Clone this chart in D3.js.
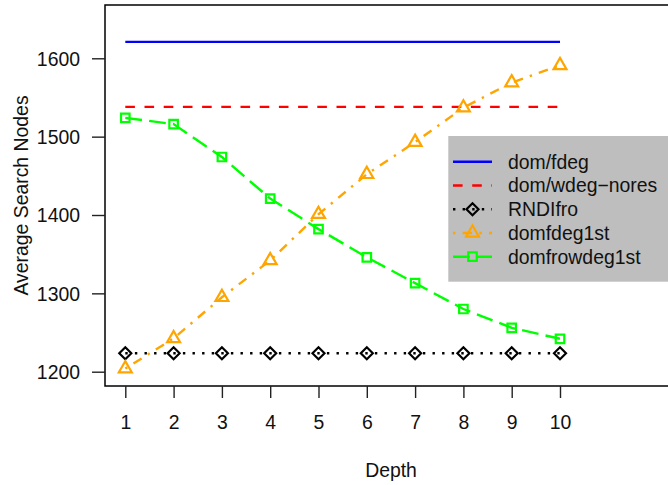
<!DOCTYPE html>
<html>
<head>
<meta charset="utf-8">
<script src="https://cdn.jsdelivr.net/npm/d3@7"></script>
<style>
  html, body { margin: 0; padding: 0; background: #fff; }
  svg { display: block; font-family: "Liberation Sans", Arial, Helvetica, sans-serif; }
</style>
</head>
<body>
<svg id="chart" width="668" height="485"></svg>
<script>
// Search depth on the x axis
const depths = [1, 2, 3, 4, 5, 6, 7, 8, 9, 10];

// Average number of search nodes per heuristic
const domFdeg        = [1621, 1621, 1621, 1621, 1621, 1621, 1621, 1621, 1621, 1621];
const domWdegNores   = [1538, 1538, 1538, 1538, 1538, 1538, 1538, 1538, 1538, 1538];
const rndIfro        = [1223.5, 1223.5, 1223.5, 1223.5, 1223.5, 1223.5, 1223.5, 1223.5, 1223.5, 1223.5];
const domFdeg1st     = [1204, 1242.5, 1295, 1342, 1401, 1452, 1493, 1537, 1569, 1591];
const domFrowDeg1st  = [1524, 1516, 1474, 1421, 1382, 1346, 1313, 1280, 1256, 1242];

const yTicks = [1200, 1300, 1400, 1500, 1600];
const xTicks = depths;

const seriesNames = ["dom/fdeg", "dom/wdeg\u2212nores", "RNDIfro", "domfdeg1st", "domfrowdeg1st"];

const series = [
  { name: seriesNames[0], values: domFdeg,       color: "#0000ff", dash: null,            marker: null },
  { name: seriesNames[1], values: domWdegNores,  color: "#ff0000", dash: "9.6,9.6",       marker: null },
  { name: seriesNames[2], values: rndIfro,       color: "#000000", dash: "2.4,7.2",       marker: "diamond" },
  { name: seriesNames[3], values: domFdeg1st,    color: "#ffa500", dash: "2.4,7.2,9.6,7.2", marker: "triangle" },
  { name: seriesNames[4], values: domFrowDeg1st, color: "#00ff00", dash: "16.8,7.2",      marker: "square" }
];

const svg = d3.select("#chart");
const fontSize = 19.4;

const frame = { left: 105, top: 5, right: 676, bottom: 386 };

const x = d3.scaleLinear().domain([1, 10]).range([125.3, 560]);
const y = d3.scaleLinear().domain([1200, 1600]).range([371.7, 58.3]);

// Marker outlines (R-style open symbols)
const R = 4.8;
const markerPath = {
  square: () => { const h = R * 0.886; return `M${-h},${-h}H${h}V${h}H${-h}Z`; },
  diamond: () => { const d = R * 0.886 * Math.SQRT2; return `M0,${-d}L${d},0L0,${d}L${-d},0Z`; },
  triangle: () => {
    const r = 1.555 * R, xc = 1.3468 * R, yc = 0.7776 * R;
    return `M0,${-r}L${xc},${yc}L${-xc},${yc}Z`;
  }
};

// Plot frame
svg.append("rect")
  .attr("x", frame.left).attr("y", frame.top)
  .attr("width", frame.right - frame.left).attr("height", frame.bottom - frame.top)
  .attr("fill", "none").attr("stroke", "#000").attr("stroke-width", 1.5);

// Axes
const yAxis = d3.axisLeft(y).tickValues(yTicks).tickSize(13).tickPadding(12).tickFormat(d3.format("d"));
const gy = svg.append("g").attr("transform", `translate(${frame.left},0)`).call(yAxis);
gy.select(".domain").remove();
gy.selectAll(".tick line").attr("stroke", "#222").attr("stroke-width", 1.4);
gy.selectAll(".tick text").attr("font-size", fontSize).attr("fill", "#111")
  .attr("font-family", "Liberation Sans, Arial, sans-serif").attr("dy", "0.36em");

const xAxis = d3.axisBottom(x).tickValues(xTicks).tickSize(12).tickFormat(d3.format("d"));
const gx = svg.append("g").attr("transform", `translate(0,${frame.bottom})`).call(xAxis);
gx.select(".domain").remove();
gx.selectAll(".tick line").attr("stroke", "#222").attr("stroke-width", 1.4);
gx.selectAll(".tick text").attr("font-size", fontSize).attr("fill", "#111")
  .attr("font-family", "Liberation Sans, Arial, sans-serif").attr("y", 43).attr("dy", 0);

// Axis titles
svg.append("text")
  .attr("x", 391).attr("y", 477)
  .attr("text-anchor", "middle").attr("font-size", fontSize).attr("fill", "#111")
  .text("Depth");

svg.append("text")
  .attr("transform", `translate(27.5,${(frame.top + frame.bottom) / 2}) rotate(-90)`)
  .attr("text-anchor", "middle").attr("font-size", fontSize).attr("fill", "#111")
  .text("Average Search Nodes");

// Series lines and markers
const line = d3.line().x((d, i) => x(depths[i])).y(d => y(d));

series.forEach(s => {
  svg.append("path")
    .attr("d", line(s.values))
    .attr("fill", "none")
    .attr("stroke", s.color)
    .attr("stroke-width", 2.4)
    .attr("stroke-dasharray", s.dash)
    .attr("stroke-linecap", "butt");
  if (s.marker) {
    svg.append("g").selectAll("path")
      .data(s.values)
      .join("path")
      .attr("transform", (d, i) => `translate(${x(depths[i])},${y(d)})`)
      .attr("d", markerPath[s.marker]())
      .attr("fill", "none")
      .attr("stroke", s.color)
      .attr("stroke-width", 2.2);
  }
});

// Legend
const legend = svg.append("g");
legend.append("rect")
  .attr("x", 448.3).attr("y", 136)
  .attr("width", 668 - 448.3 + 10).attr("height", 145.7)
  .attr("fill", "#bebebe");

const rowY = d3.scaleLinear().domain([0, 4]).range([161.7, 256.7]);
series.forEach((s, i) => {
  const cy = rowY(i);
  legend.append("line")
    .attr("x1", 453).attr("x2", 492).attr("y1", cy).attr("y2", cy)
    .attr("stroke", s.color).attr("stroke-width", 2.4)
    .attr("stroke-dasharray", s.dash);
  if (s.marker) {
    legend.append("path")
      .attr("transform", `translate(472.5,${cy})`)
      .attr("d", markerPath[s.marker]())
      .attr("fill", "none").attr("stroke", s.color).attr("stroke-width", 2.2);
  }
  legend.append("text")
    .attr("x", 508).attr("y", cy).attr("dy", "0.36em")
    .attr("font-size", fontSize).attr("fill", "#111")
    .text(s.name);
});
</script>
</body>
</html>
